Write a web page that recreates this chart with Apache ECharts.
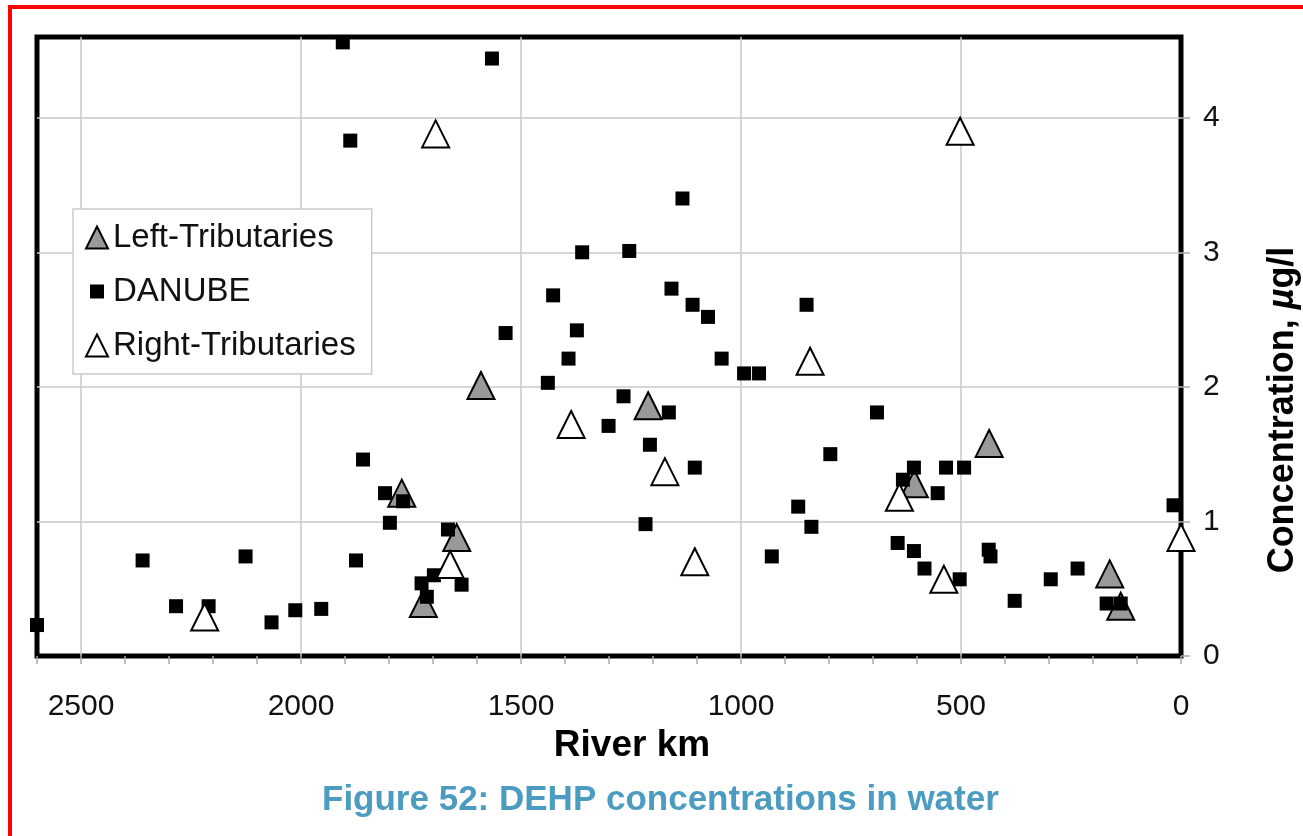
<!DOCTYPE html>
<html>
<head>
<meta charset="utf-8">
<script src="https://cdn.jsdelivr.net/npm/echarts@6/dist/echarts.min.js"></script>
<style>
  html, body { margin: 0; padding: 0; background: #fff; }
  #chart { width: 1303px; height: 836px; }
</style>
</head>
<body>
<div id="chart"></div>
<script>
"use strict";
const FONT = 'Liberation Sans, Arial, Helvetica, sans-serif';

// river km, concentration (µg/l)
const seriesNames = ['Left-Tributaries', 'DANUBE', 'Right-Tributaries'];
const leftTributaries = [
    [1771, 1.21], [1722, 0.39], [1646, 0.88], [1591, 2.01], [1211, 1.86],
    [606, 1.28], [436, 1.58], [162, 0.61], [137, 0.37]
];
const danube = [
    [2600, 0.23], [2360, 0.71], [2284, 0.37], [2210, 0.37], [2126, 0.74],
    [2067, 0.25], [2013, 0.34], [1954, 0.35], [1905, 4.56], [1888, 3.83],
    [1875, 0.71], [1859, 1.46], [1809, 1.21], [1798, 0.99], [1768, 1.15],
    [1726, 0.54], [1714, 0.44], [1698, 0.60], [1666, 0.94], [1635, 0.53],
    [1566, 4.44], [1535, 2.40], [1439, 2.03], [1427, 2.68], [1392, 2.21],
    [1373, 2.42], [1361, 3.00], [1301, 1.71], [1267, 1.93], [1254, 3.01],
    [1217, 0.98], [1207, 1.57], [1164, 1.81], [1158, 2.73], [1133, 3.40],
    [1110, 2.61], [1105, 1.40], [1075, 2.52], [1044, 2.21], [993, 2.10],
    [959, 2.10], [930, 0.74], [870, 1.11], [851, 2.61], [840, 0.96],
    [797, 1.50], [691, 1.81], [644, 0.84], [632, 1.31], [607, 1.40],
    [607, 0.78], [583, 0.65], [553, 1.21], [534, 1.40], [503, 0.57],
    [493, 1.40], [437, 0.79], [433, 0.74], [378, 0.41], [296, 0.57],
    [235, 0.65], [169, 0.39], [137, 0.39], [17, 1.12]
];
const rightTributaries = [
    [2219, 0.29], [1694, 3.88], [1661, 0.68], [1386, 1.72], [1173, 1.37],
    [1105, 0.70], [843, 2.19], [640, 1.18], [539, 0.57], [502, 3.90], [0, 0.88]
];

const chart = echarts.init(document.getElementById('chart'));

const option = {
    animation: false,
    backgroundColor: '#fff',
    title: {
        text: 'Figure 52: DEHP concentrations in water',
        left: 322,
        top: 783,
        padding: 0,
        textStyle: { fontFamily: FONT, fontSize: 35, fontWeight: 'bold', color: '#4b9cc0' }
    },
    grid: {
        left: 37, top: 37, right: 122, bottom: 180,
        show: true, borderColor: '#000', borderWidth: 5
    },
    legend: {
        left: 73, top: 209,
        orient: 'vertical',
        padding: [12, 16, 12, 12],
        itemGap: 21,
        itemWidth: 22,
        itemHeight: 22,
        borderColor: '#ccc',
        borderWidth: 1.5,
        backgroundColor: '#fff',
        textStyle: { fontFamily: FONT, fontSize: 33, color: '#111' },
        data: [
            { name: seriesNames[0] },
            { name: seriesNames[1], icon: 'path://M0,0M22,22M4,4H18V18H4Z' },
            { name: seriesNames[2] }
        ]
    },
    xAxis: {
        type: 'value',
        min: 0, max: 2600, interval: 500,
        inverse: true,
        axisLine: { show: false },
        axisTick: { show: true, length: 8, lineStyle: { color: '#aaa', width: 1.5 } },
        minorTick: { show: true, splitNumber: 5, length: 8, lineStyle: { color: '#aaa', width: 1.5 } },
        axisLabel: {
            margin: 36, fontFamily: FONT, fontSize: 30, color: '#111', showMaxLabel: false,
            formatter: v => String(v)
        },
        splitLine: { show: true, showMinLine: false, showMaxLine: false, lineStyle: { color: '#c8c8c8', width: 1.5 } },
        name: 'River km',
        nameLocation: 'middle',
        nameGap: 70,
        nameTextStyle: { fontFamily: FONT, fontSize: 37, fontWeight: 'bold', color: '#000', padding: [0, 0, 0, 46] }
    },
    yAxis: {
        type: 'value',
        position: 'right',
        min: 0, max: 4.6, interval: 1,
        axisLine: { show: false },
        axisTick: { show: true, length: 9, lineStyle: { color: '#aaa', width: 1.5 } },
        axisLabel: { margin: 22, fontFamily: FONT, fontSize: 30, color: '#111', showMaxLabel: false },
        splitLine: { show: true, showMinLine: false, showMaxLine: false, lineStyle: { color: '#c8c8c8', width: 1.5 } }
    },
    graphic: [
        {
            type: 'rect',
            shape: { x: 10, y: 7, width: 1400, height: 900 },
            style: { fill: 'none', stroke: '#ff0000', lineWidth: 4 },
            silent: true
        },
        {
            type: 'text',
            x: 1283, y: 410,
            rotation: Math.PI / 2,
            style: {
                text: '{b|Concentration, }{i|µ}{b|g/l}',
                align: 'center',
                verticalAlign: 'middle',
                rich: {
                    b: { fontFamily: FONT, fontSize: 36, fontWeight: 'bold', fill: '#000' },
                    i: { fontFamily: FONT, fontSize: 36, fontWeight: 'bold', fontStyle: 'italic', fill: '#000' }
                }
            }
        }
    ],
    series: [
        {
            name: seriesNames[0], type: 'scatter', symbol: 'triangle', symbolSize: 27,
            data: leftTributaries,
            itemStyle: { color: '#999', borderColor: '#000', borderWidth: 2, opacity: 1 }
        },
        {
            name: seriesNames[1], type: 'scatter', symbol: 'rect', symbolSize: 14,
            data: danube,
            itemStyle: { color: '#000', opacity: 1 }
        },
        {
            name: seriesNames[2], type: 'scatter', symbol: 'triangle', symbolSize: 27,
            data: rightTributaries,
            itemStyle: { color: '#fff', borderColor: '#000', borderWidth: 2, opacity: 1 }
        }
    ]
};
chart.setOption(option);
</script>
</body>
</html>
